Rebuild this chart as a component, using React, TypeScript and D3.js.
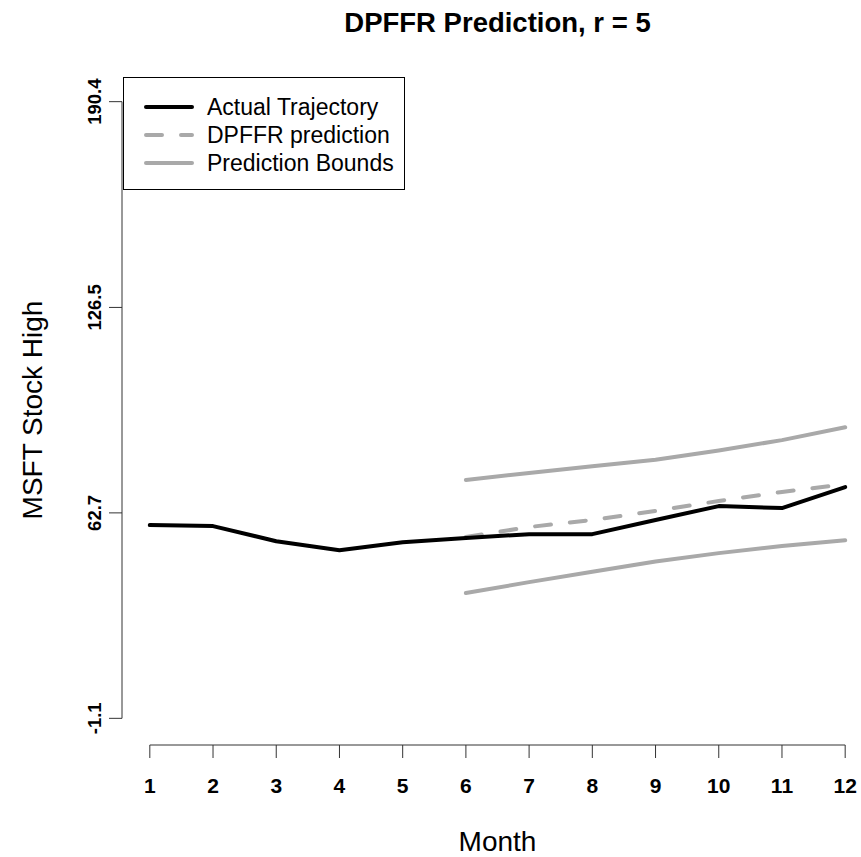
import React from "react";
import * as d3 from "d3";

// Observed monthly highs (months 1-12)
const months = [1, 2, 3, 4, 5, 6, 7, 8, 9, 10, 11, 12];
const actual = [58.9, 58.6, 53.9, 51.1, 53.6, 54.9, 56.1, 56.1, 60.5, 64.8, 64.2, 70.7];

// Forecast horizon (months 6-12)
const predMonths = [6, 7, 8, 9, 10, 11, 12];
const prediction = [55.2, 58.3, 60.5, 63.3, 66.4, 69.2, 71.6];
const upperBound = [72.9, 75.1, 77.2, 79.2, 82.1, 85.3, 89.3];
const lowerBound = [37.8, 41.2, 44.4, 47.6, 50.2, 52.4, 54.2];

const yTicks = [-1.1, 62.7, 126.5, 190.4];
const xTicks = months;

const legendItems = [
  { label: "Actual Trajectory", color: "#000000", dash: "" },
  { label: "DPFFR prediction", color: "#A9A9A9", dash: "16 19" },
  { label: "Prediction Bounds", color: "#A9A9A9", dash: "" },
];

const W = 861;
const H = 857;
const plot = { left: 122, right: 873, top: 77, bottom: 743 };
const FONT = "'Liberation Sans', Arial, sans-serif";

export default function App() {
  const xPad = (12 - 1) * 0.04;
  const yMin = -1.1;
  const yMax = 190.4;
  const yPad = (yMax - yMin) * 0.04;

  const x = d3.scaleLinear().domain([1 - xPad, 12 + xPad]).range([plot.left, plot.right]);
  const y = d3.scaleLinear().domain([yMin - yPad, yMax + yPad]).range([plot.bottom, plot.top]);

  const line = d3
    .line<[number, number]>()
    .x((d) => x(d[0]))
    .y((d) => y(d[1]));

  const zip = (xs: number[], ys: number[]) => xs.map((v, i) => [v, ys[i]] as [number, number]);

  const yAxisX = plot.left;
  const xAxisY = plot.bottom + 2;

  return (
    <svg
      width={W}
      height={H}
      style={{ position: "absolute", left: 0, top: 0, background: "#fff" }}
      fontFamily={FONT}
    >
      <rect width={W} height={H} fill="#fff" />
      {/* title */}
      <text x={(plot.left + plot.right) / 2} y={32} textAnchor="middle" fontWeight="bold" fontSize={27.5}>
        DPFFR Prediction, r = 5
      </text>

      {/* bounds */}
      <path d={line(zip(predMonths, upperBound)) || ""} fill="none" stroke="#A9A9A9" strokeWidth={4} strokeLinejoin="round" strokeLinecap="round" />
      <path d={line(zip(predMonths, lowerBound)) || ""} fill="none" stroke="#A9A9A9" strokeWidth={4} strokeLinejoin="round" strokeLinecap="round" />
      {/* prediction */}
      <path d={line(zip(predMonths, prediction)) || ""} fill="none" stroke="#A9A9A9" strokeWidth={4} strokeDasharray="16 19" strokeLinecap="round" />
      {/* actual */}
      <path d={line(zip(months, actual)) || ""} fill="none" stroke="#000" strokeWidth={4} strokeLinejoin="round" strokeLinecap="round" />

      {/* y axis */}
      <g stroke="#333" strokeWidth={1}>
        <line x1={yAxisX} x2={yAxisX} y1={y(yTicks[0])} y2={y(yTicks[yTicks.length - 1])} />
        {yTicks.map((t) => (
          <line key={t} x1={yAxisX - 13} x2={yAxisX} y1={y(t)} y2={y(t)} />
        ))}
      </g>
      {yTicks.map((t) => (
        <text
          key={t}
          transform={`translate(${yAxisX - 21},${y(t)}) rotate(-90)`}
          textAnchor="middle"
          fontWeight="bold"
          fontSize={18.5}
        >
          {t.toFixed(1)}
        </text>
      ))}
      <text transform={`translate(${42},${(plot.top + plot.bottom) / 2}) rotate(-90)`} textAnchor="middle" fontSize={28}>
        MSFT Stock High
      </text>

      {/* x axis */}
      <g stroke="#333" strokeWidth={1}>
        <line x1={x(1)} x2={x(12)} y1={xAxisY} y2={xAxisY} />
        {xTicks.map((t) => (
          <line key={t} x1={x(t)} x2={x(t)} y1={xAxisY} y2={xAxisY + 13} />
        ))}
      </g>
      {xTicks.map((t) => (
        <text key={t} x={x(t)} y={793} textAnchor="middle" fontWeight="bold" fontSize={21}>
          {t}
        </text>
      ))}
      <text x={(plot.left + plot.right) / 2} y={851} textAnchor="middle" fontSize={28}>
        Month
      </text>

      {/* legend */}
      <rect x={123.5} y={77.5} width={281} height={112} fill="#fff" stroke="#000" strokeWidth={1} />
      {legendItems.map((item, i) => {
        const cy = 107 + i * 28;
        return (
          <g key={item.label}>
            <line
              x1={146}
              x2={192}
              y1={cy}
              y2={cy}
              stroke={item.color}
              strokeWidth={4}
              strokeDasharray={item.dash || undefined}
              strokeLinecap="round"
            />
            <text x={207} y={cy + 8} fontSize={23}>
              {item.label}
            </text>
          </g>
        );
      })}
    </svg>
  );
}
